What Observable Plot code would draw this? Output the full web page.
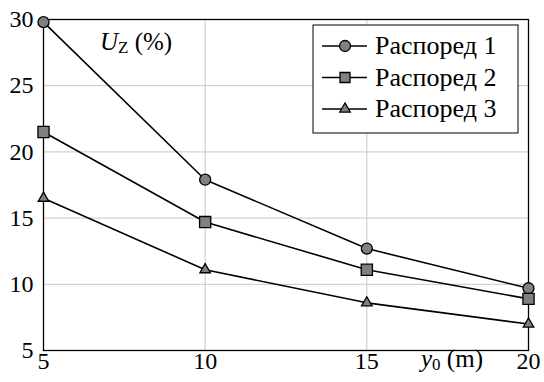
<!DOCTYPE html>
<html><head><meta charset="utf-8">
<script src="https://cdn.jsdelivr.net/npm/d3@7"></script>
<script src="https://cdn.jsdelivr.net/npm/@observablehq/plot@0.6"></script>
<style>
body{margin:0;background:#fff}
</style>
</head><body><div id="chart"></div>
<script>
const xs = [5, 10, 15, 20];
const series1 = [29.8, 17.9, 12.7, 9.7];
const series2 = [21.5, 14.7, 11.1, 8.9];
const series3 = [16.5, 11.1, 8.6, 7.0];
const seriesNames = ["Распоред 1", "Распоред 2", "Распоред 3"];
const xTicks = [5, 10, 15, 20];
const yTicks = [5, 10, 15, 20, 25, 30];

const rows = (vals, name) => xs.map((x, i) => ({x, y: vals[i], s: name}));
const d1 = rows(series1, seriesNames[0]);
const d2 = rows(series2, seriesNames[1]);
const d3s = rows(series3, seriesNames[2]);
const fillGray = "#808080";
const SERIF = "Liberation Serif";

const plot = Plot.plot({
  width: 544, height: 382,
  marginLeft: 43, marginRight: 16, marginTop: 19, marginBottom: 32,
  x: {domain: [5, 20]},
  y: {domain: [5, 30]},
  style: {fontFamily: SERIF, fontSize: "24px", color: "#000", background: "#fff"},
  marks: [
    Plot.gridX(xTicks.slice(1, -1), {stroke: "#c8c8c8", strokeOpacity: 1, strokeWidth: 1}),
    Plot.gridY(yTicks.slice(1, -1), {stroke: "#c8c8c8", strokeOpacity: 1, strokeWidth: 1}),
    Plot.frame({stroke: "#000", strokeWidth: 1.3}),
    Plot.axisX(xTicks, {tickSize: 0, tickPadding: 1, label: null, fontSize: 24}),
    Plot.axisY(yTicks, {tickSize: 0, tickPadding: 10, label: null, fontSize: 24}),
    Plot.lineY(d1, {x: "x", y: "y", stroke: "#000", strokeWidth: 1.6}),
    Plot.lineY(d2, {x: "x", y: "y", stroke: "#000", strokeWidth: 1.6}),
    Plot.lineY(d3s, {x: "x", y: "y", stroke: "#000", strokeWidth: 1.6}),
    Plot.dot(d1, {x: "x", y: "y", symbol: "circle", r: 5.5, fill: fillGray, stroke: "#000", strokeWidth: 1.3}),
    Plot.dot(d2, {x: "x", y: "y", symbol: "square", r: 6.3, fill: fillGray, stroke: "#000", strokeWidth: 1.3}),
    Plot.dot(d3s, {x: "x", y: "y", symbol: "triangle", r: 3.9, fill: fillGray, stroke: "#000", strokeWidth: 1.3})
  ]
});
document.getElementById("chart").appendChild(plot);

const svg = d3.select(plot);
// axis labels
const ul = svg.append("text").attr("x", 100).attr("y", 50).attr("text-anchor", "start")
  .attr("font-size", 25).attr("fill", "#000");
ul.append("tspan").attr("font-style", "italic").text("U");
ul.append("tspan").attr("font-size", 17).attr("dy", 3).text("Z");
ul.append("tspan").attr("dy", -3).text(" (%)");

const xl = svg.append("text").attr("x", 421).attr("y", 367).attr("text-anchor", "start")
  .attr("font-size", 25).attr("fill", "#000");
xl.append("tspan").attr("font-style", "italic").text("y");
xl.append("tspan").attr("font-size", 17).attr("dy", 3).text("0");
xl.append("tspan").attr("dy", -3).text(" (m)");

// legend
const lg = svg.append("g");
lg.append("rect").attr("x", 313).attr("y", 25).attr("width", 205).attr("height", 108)
  .attr("fill", "#fff").attr("stroke", "#000").attr("stroke-width", 1);
const syms = [d3.symbolCircle, d3.symbolSquare, d3.symbolTriangle];
const sizes = [Math.PI*5.5*5.5, Math.PI*6.3*6.3*0.8, Math.PI*3.9*3.9];
seriesNames.forEach((name, i) => {
  const cy = 46 + i * 31.5;
  lg.append("line").attr("x1", 322).attr("x2", 367).attr("y1", cy).attr("y2", cy)
    .attr("stroke", "#000").attr("stroke-width", 1.6);
  lg.append("path").attr("d", d3.symbol(syms[i], sizes[i])())
    .attr("transform", `translate(345,${cy})`)
    .attr("fill", fillGray).attr("stroke", "#000").attr("stroke-width", 1.3);
  lg.append("text").attr("x", 375).attr("y", cy + 8)
    .attr("text-anchor", "start").text(name)
    .attr("font-size", 26).attr("fill", "#000");
});

svg.style("font-family", SERIF, "important");
svg.selectAll("text, tspan").attr("font-family", SERIF).style("font-family", SERIF, "important");
</script></body></html>
